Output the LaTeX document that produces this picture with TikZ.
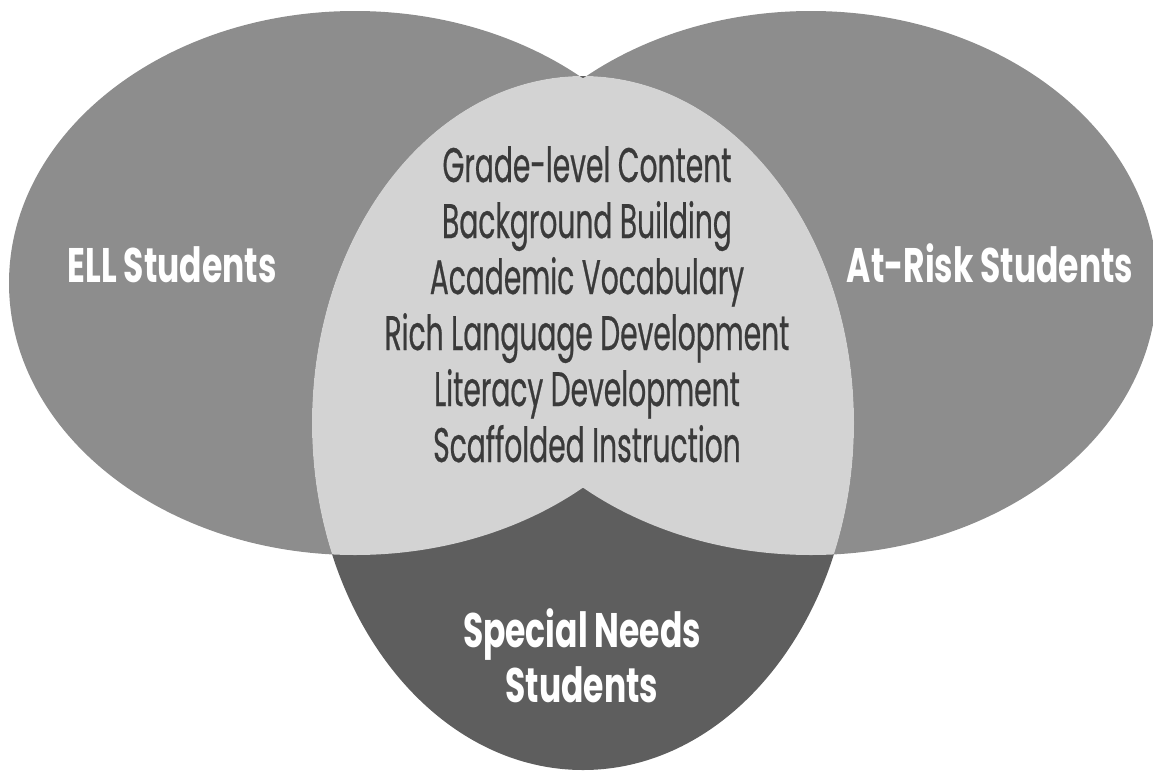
\documentclass[tikz,border=0pt]{standalone}
\usepackage{fontspec}
\newfontfamily\vennfont[FakeStretch=0.58,FakeBold=0.5]{Poppins}
\newfontfamily\groupfont[FakeStretch=0.68]{Poppins}
\usepackage{tikz}
\usetikzlibrary{positioning}

\definecolor{outergray}{HTML}{8D8D8D}
\definecolor{centerlight}{HTML}{D3D3D3}
\definecolor{bottomdark}{HTML}{5E5E5E}
\definecolor{listgray}{HTML}{3A3A3A}

\tikzset{
    listtext/.style={font=\vennfont\fontsize{27.6}{33}\selectfont, text=listgray, anchor=base, inner sep=0pt},
    grouptext/.style={font=\groupfont\bfseries\fontsize{27.6}{33}\selectfont, text=white, anchor=base, inner sep=0pt}
}

\begin{document}
\begin{tikzpicture}[x=0.02cm, y=-0.02cm]
    \useasboundingbox (0,0) rectangle (1153,771);
    % the three groups
    \fill[outergray] (355,283) ellipse [x radius=346, y radius=272];
    \fill[outergray] (811,283) ellipse [x radius=346, y radius=272];
    \fill[bottomdark] (583,423) ellipse [x radius=271, y radius=347];
    \begin{scope}
        \clip (583,423) ellipse [x radius=271, y radius=347];
        \fill[centerlight] (355,283) ellipse [x radius=346, y radius=272] (811,283) ellipse [x radius=346, y radius=272];
    \end{scope}
    % group names
    \node[grouptext] (ell) at (172,282) {ELL Students};
    \node[grouptext] (atrisk) at (990,282) {At-Risk Students};
    \node[grouptext] (special) at (582,647) {Special Needs};
    \node[grouptext] (specialb) at (582,702) {Students};
    % shared list
    \node[listtext] (grade) at (587,182) {Grade-level Content};
    \node[listtext] (background) at (587,238) {Background Building};
    \node[listtext] (academic) at (587,294) {Academic Vocabulary};
    \node[listtext] (rich) at (587,350) {Rich Language Development};
    \node[listtext] (literacy) at (587,406) {Literacy Development};
    \node[listtext] (scaffold) at (587,462) {Scaffolded Instruction};
\end{tikzpicture}
\end{document}
